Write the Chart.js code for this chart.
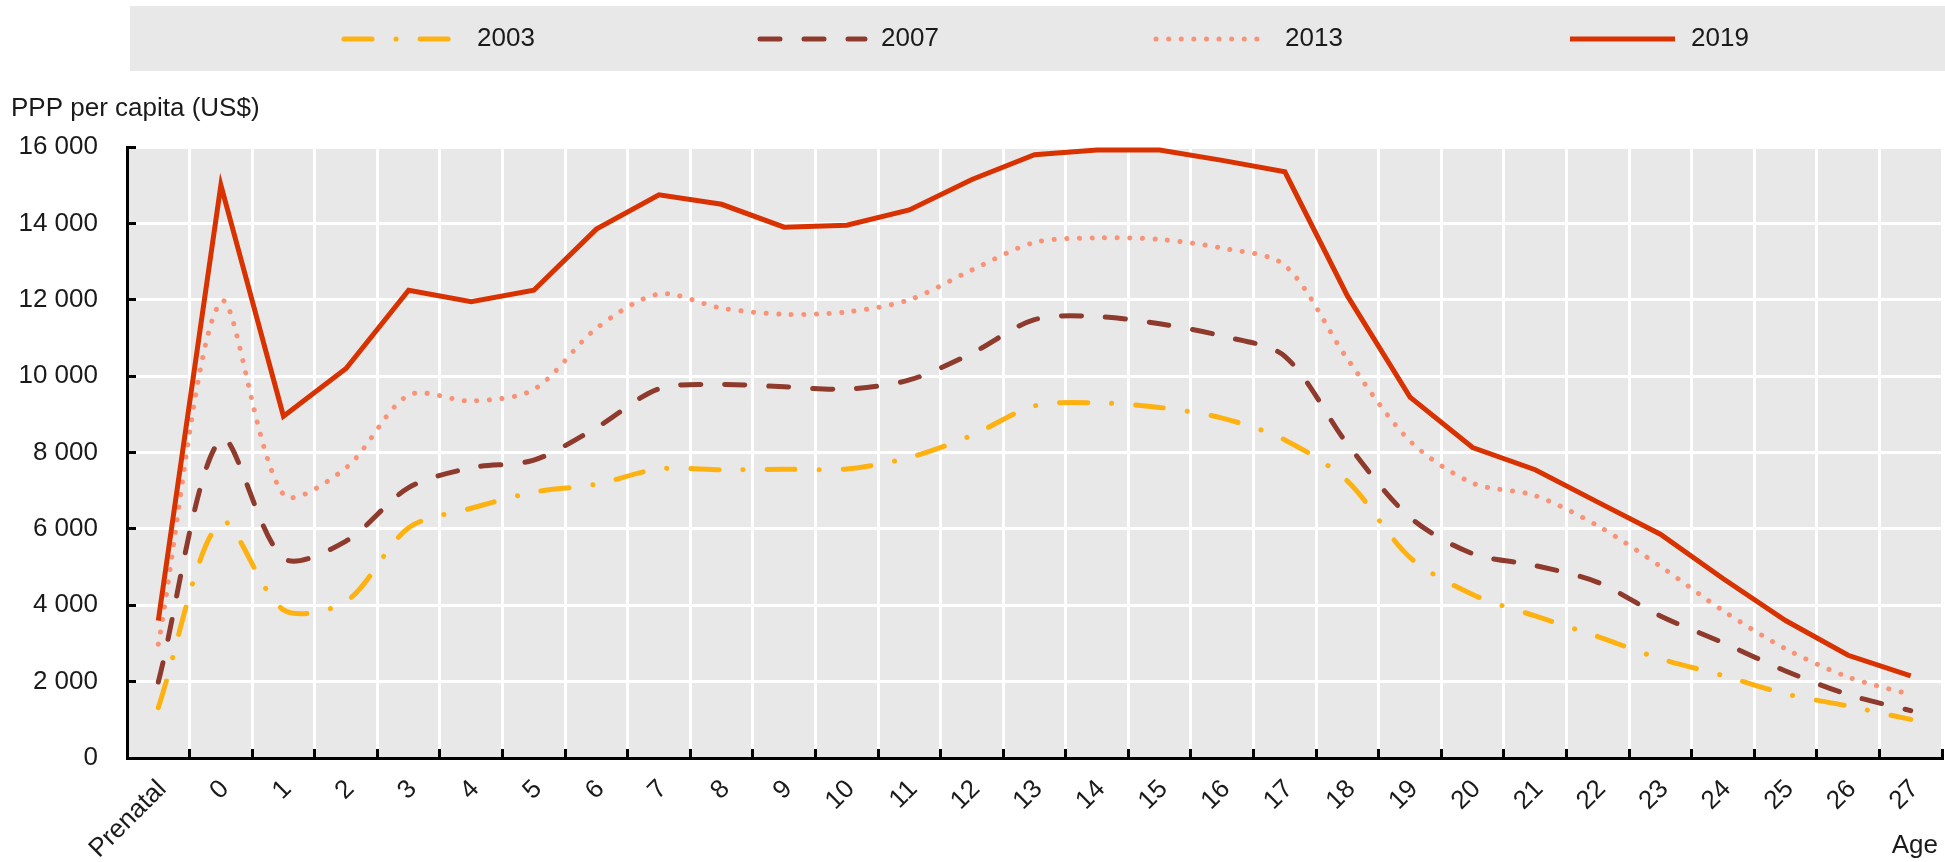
<!DOCTYPE html>
<html>
<head>
<meta charset="utf-8">
<script src="https://cdn.jsdelivr.net/npm/chart.js@4.4.1/dist/chart.umd.min.js"></script>
<style>
  html, body { margin: 0; padding: 0; background: #fff; }
  #chart { display: block; }
</style>
</head>
<body>
<canvas id="chart" width="1945" height="862"></canvas>
<script>
// categories (age groups)
const ages = ["Prenatal", "0", "1", "2", "3", "4", "5", "6", "7", "8", "9", "10", "11", "12", "13",
  "14", "15", "16", "17", "18", "19", "20", "21", "22", "23", "24", "25", "26", "27"];

// PPP per capita (US$)
const values2003 = [1320, 6180, 3880, 4100, 6030, 6540, 6960, 7170, 7570, 7550, 7560, 7570, 7870, 8450, 9220,
  9300, 9180, 8900, 8330, 7250, 5250, 4280, 3720, 3180, 2600, 2160, 1680, 1360, 1010];
const values2007 = [1990, 8350, 5230, 5680, 7080, 7600, 7800, 8650, 9670, 9780, 9720, 9660, 9900, 10600, 11480,
  11560, 11370, 11050, 10520, 8220, 6300, 5350, 5040, 4600, 3720, 3020, 2280, 1660, 1240];
const values2013 = [2980, 11950, 6900, 7600, 9500, 9350, 9650, 11250, 12150, 11780, 11620, 11680, 12000, 12780, 13500,
  13620, 13580, 13350, 12900, 10450, 8300, 7200, 6870, 6080, 5020, 3860, 2860, 2120, 1660];
const values2019 = [3600, 15000, 8950, 10200, 12250, 11950, 12250, 13850, 14750, 14500, 13900, 13950, 14350, 15150, 15800,
  15920, 15920, 15650, 15350, 12100, 9450, 8130, 7550, 6700, 5860, 4700, 3600, 2690, 2150];

const seriesNames = ["2003", "2007", "2013", "2019"];
const yTitle = "PPP per capita (US$)";
const xTitle = "Age";

const FONT = "'Liberation Sans', Arial, sans-serif";
const FONT_SIZE = 26;
Chart.defaults.font.family = FONT;
Chart.defaults.color = "#1a1a1a";

function fmt(v) {
  return String(v).replace(/\B(?=(\d{3})+(?!\d))/g, " ");
}

// grey plot background, boxed legend and free text labels
const decorPlugin = {
  id: "decor",
  beforeDraw(chart) {
    const ctx = chart.ctx;
    const a = chart.chartArea;
    ctx.save();
    ctx.fillStyle = "#E8E8E8";
    ctx.fillRect(a.left, a.top, a.right - a.left, a.bottom - a.top);

    // legend box
    ctx.fillRect(130, 6, chart.width - 130, 65);
    const sampleX = [341, 757, 1153, 1567];
    const textX = [477, 881, 1285, 1691];
    const ly = 39;
    chart.data.datasets.forEach(function (ds, i) {
      ctx.save();
      ctx.strokeStyle = ds.borderColor;
      ctx.lineWidth = ds.borderWidth;
      ctx.lineCap = ds.borderCapStyle || "butt";
      ctx.setLineDash(ds.borderDash || []);
      ctx.beginPath();
      ctx.moveTo(sampleX[i] + 3, ly);
      ctx.lineTo(sampleX[i] + 108, ly);
      ctx.stroke();
      ctx.restore();
      ctx.fillStyle = "#1a1a1a";
      ctx.font = FONT_SIZE + "px " + FONT;
      ctx.textBaseline = "middle";
      ctx.textAlign = "left";
      ctx.fillText(ds.label, textX[i], ly);
    });

    ctx.fillStyle = "#1a1a1a";
    ctx.font = FONT_SIZE + "px " + FONT;
    ctx.textBaseline = "middle";
    ctx.textAlign = "left";
    ctx.fillText(yTitle, 11, 109);
    ctx.textAlign = "right";
    ctx.fillText(xTitle, 1938, 846);
    ctx.restore();
  }
};

new Chart(document.getElementById("chart").getContext("2d"), {
  type: "line",
  data: {
    labels: ages,
    datasets: [
      {
        label: seriesNames[0],
        data: values2003,
        borderColor: "#FDB212",
        borderWidth: 5,
        borderDash: [28, 24, 0.1, 24],
        borderCapStyle: "round",
        tension: 0.3,
        pointRadius: 0,
        order: 3,
      },
      {
        label: seriesNames[1],
        data: values2007,
        borderColor: "#8E3A2C",
        borderWidth: 5,
        borderDash: [20, 24],
        borderCapStyle: "round",
        tension: 0.3,
        pointRadius: 0,
        order: 2,
      },
      {
        label: seriesNames[2],
        data: values2013,
        borderColor: "#F99378",
        borderWidth: 5,
        borderDash: [0.1, 12.5],
        borderCapStyle: "round",
        tension: 0.3,
        pointRadius: 0,
        order: 1,
      },
      {
        label: seriesNames[3],
        data: values2019,
        borderColor: "#D83200",
        borderWidth: 5,
        tension: 0,
        pointRadius: 0,
        order: 0,
      },
    ],
  },
  options: {
    responsive: false,
    animation: false,
    devicePixelRatio: 1,
    layout: {
      padding: { top: 147, left: 19, right: 3, bottom: 0 },
    },
    plugins: {
      legend: { display: false },
      tooltip: { enabled: false },
    },
    scales: {
      x: {
        offset: true,
        grid: {
          offset: true,
          color: "#ffffff",
          lineWidth: 3,
          tickColor: "#000000",
          tickWidth: 3,
          tickLength: -9,
        },
        border: { color: "#000000", width: 3 },
        ticks: {
          autoSkip: false,
          minRotation: 45,
          maxRotation: 45,
          padding: 25,
          labelOffset: 4,
          font: { size: FONT_SIZE },
        },
        afterFit: function (scale) {
          scale.paddingLeft = 0;
          scale.paddingRight = 0;
          scale.height = 104;
        },
      },
      y: {
        min: 0,
        max: 16000,
        grid: {
          color: "#ffffff",
          lineWidth: 3,
          tickColor: "#000000",
          tickWidth: 3,
          tickLength: -9,
        },
        border: { color: "#000000", width: 3 },
        ticks: {
          stepSize: 2000,
          padding: 38,
          font: { size: FONT_SIZE },
          callback: function (v) { return fmt(v); },
        },
        afterFit: function (scale) {
          scale.width = 108;
        },
      },
    },
  },
  plugins: [decorPlugin],
});
</script>
</body>
</html>
